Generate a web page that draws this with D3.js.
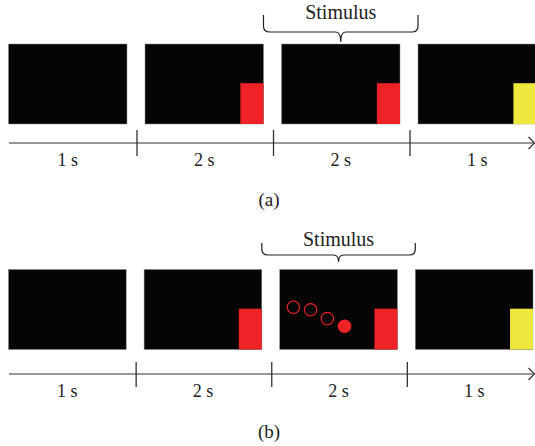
<!DOCTYPE html>
<html lang="en">
<head>
    <meta charset="UTF-8">
    <title>Trial timeline</title>
    <script src="https://d3js.org/d3.v7.min.js"></script>
    <style>
        html, body { margin: 0; padding: 0; background: #fff; }
        text { font-family: "Liberation Serif", "DejaVu Serif", serif; fill: #222; }
    </style>
</head>
<body>
<div id="chart"></div>
<script>
    // trial phases, in order, and what each screen shows
    const phases = ["fixation", "cue", "stimulus", "response"];
    const durations = ["1 s", "2 s", "2 s", "1 s"];
    const cueTypes = ["none", "red", "red", "yellow"];
    const panelLabels = ["(a)", "(b)"];
    const braceLabel = "Stimulus";
    const bracePhase = "stimulus";

    // moving ball shown in panel (b), as fractions of the screen
    const ballX = [0.116, 0.262, 0.405, 0.551];
    const ballY = [0.471, 0.504, 0.613, 0.709];
    const ballFilled = [false, false, false, true];

    const width = 535, height = 446;

    const cueColor = d3.scaleOrdinal()
        .domain(["none", "red", "yellow"])
        .range(["none", "#ee2227", "#eee83e"]);

    const svg = d3.select("#chart")
        .append("svg")
        .attr("width", width)
        .attr("height", height);

    // per panel layout
    const panels = [
        { label: panelLabels[0], range: [8.5, 536.5], boxTop: 44, boxH: 80,
          braceTop: 15, braceMid: 32, braceTip: 42, textY: 19,
          axisY: 143, tickUp: 13, tickDown: 13, durY: 166, labelY: 206, ball: false },
        { label: panelLabels[1], range: [8.5, 533], boxTop: 269.5, boxH: 80,
          braceTop: 243, braceMid: 255, braceTip: 262, textY: 246,
          axisY: 374, tickUp: 12, tickDown: 13, durY: 397, labelY: 438, ball: true }
    ];

    panels.forEach(p => drawPanel(p));

    function drawPanel(p) {
        const g = svg.append("g");

        const x = d3.scaleBand()
            .domain(phases)
            .range(p.range)
            .paddingInner(0.132)
            .paddingOuter(0);

        const bw = x.bandwidth();
        const gap = x.step() - bw;

        // screens
        const screens = g.selectAll(".screen")
            .data(phases)
            .enter()
            .append("g")
            .attr("class", "screen")
            .attr("transform", d => `translate(${x(d)},${p.boxTop})`);

        screens.append("rect")
            .attr("width", bw)
            .attr("height", p.boxH)
            .attr("fill", "#050505")
            .attr("stroke", "#8a8a8a")
            .attr("stroke-width", 0.5);

        // cue square in the lower right corner
        screens.filter((d, i) => cueTypes[i] !== "none")
            .append("rect")
            .attr("x", bw * 0.805)
            .attr("y", p.boxH * 0.49)
            .attr("width", bw * 0.195)
            .attr("height", p.boxH * 0.51)
            .attr("fill", d => cueColor(cueTypes[phases.indexOf(d)]));

        // ball trail
        if (p.ball) {
            const bx = d3.scaleLinear().domain([0, 1]).range([0, bw]);
            const by = d3.scaleLinear().domain([0, 1]).range([0, p.boxH]);
            const ball = screens.filter(d => d === bracePhase);
            ball.selectAll("circle")
                .data(ballX.map((v, i) => ({ x: v, y: ballY[i], filled: ballFilled[i] })))
                .enter()
                .append("circle")
                .attr("cx", d => bx(d.x))
                .attr("cy", d => by(d.y))
                .attr("r", d => d.filled ? 6.8 : 6.2)
                .attr("fill", d => d.filled ? "#ee2227" : "none")
                .attr("stroke", "#ee2227")
                .attr("stroke-width", d => d.filled ? 0 : 1.1);
        }

        // brace over the stimulus screen
        const c = x(bracePhase) + bw / 2;
        const x0 = x(bracePhase) - gap, x1 = x(bracePhase) + bw + gap;
        const r = 6;
        const brace = d3.path();
        brace.moveTo(x0, p.braceTop);
        brace.lineTo(x0, p.braceMid - r);
        brace.quadraticCurveTo(x0, p.braceMid, x0 + r, p.braceMid);
        brace.lineTo(c - 5, p.braceMid);
        brace.quadraticCurveTo(c, p.braceMid, c, p.braceTip);
        brace.quadraticCurveTo(c, p.braceMid, c + 5, p.braceMid);
        brace.lineTo(x1 - r, p.braceMid);
        brace.quadraticCurveTo(x1, p.braceMid, x1, p.braceMid - r);
        brace.lineTo(x1, p.braceTop);

        g.append("path")
            .attr("d", brace.toString())
            .attr("fill", "none")
            .attr("stroke", "#222")
            .attr("stroke-width", 1.2);

        g.append("text")
            .attr("x", c)
            .attr("y", p.textY)
            .attr("text-anchor", "middle")
            .attr("font-size", "20px")
            .text(braceLabel);

        // time axis
        g.append("line")
            .attr("x1", 9)
            .attr("x2", width - 0.5)
            .attr("y1", p.axisY)
            .attr("y2", p.axisY)
            .attr("stroke", "#333")
            .attr("stroke-width", 1.2);

        g.append("path")
            .attr("d", `M${width - 6.5},${p.axisY - 6}L${width - 0.5},${p.axisY}L${width - 6.5},${p.axisY + 6}`)
            .attr("fill", "none")
            .attr("stroke", "#333")
            .attr("stroke-width", 1.2);

        g.selectAll(".tick")
            .data(phases.slice(1))
            .enter()
            .append("line")
            .attr("class", "tick")
            .attr("x1", d => x(d) - gap / 2 + 1)
            .attr("x2", d => x(d) - gap / 2 + 1)
            .attr("y1", p.axisY - p.tickUp)
            .attr("y2", p.axisY + p.tickDown)
            .attr("stroke", "#333")
            .attr("stroke-width", 1.3);

        g.selectAll(".dur")
            .data(phases)
            .enter()
            .append("text")
            .attr("class", "dur")
            .attr("x", d => x(d) + bw / 2)
            .attr("y", p.durY)
            .attr("text-anchor", "middle")
            .attr("font-size", "18px")
            .text((d, i) => durations[i]);

        g.append("text")
            .attr("x", 269)
            .attr("y", p.labelY)
            .attr("text-anchor", "middle")
            .attr("font-size", "19px")
            .text(p.label);
    }
</script>
</body>
</html>
